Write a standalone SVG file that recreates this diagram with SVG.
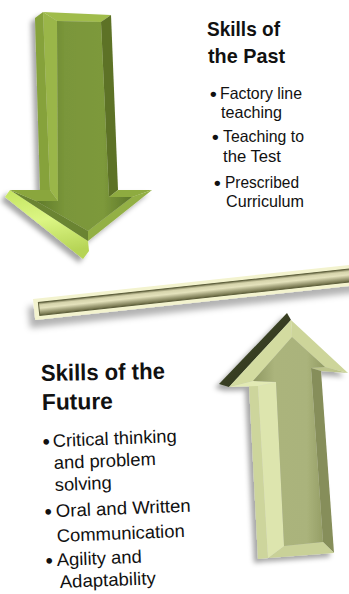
<svg xmlns="http://www.w3.org/2000/svg" width="349" height="594" viewBox="0 0 349 594">
<style>
.t{font-family:"Liberation Sans",Arial,sans-serif;fill:#111}
.h{font-weight:bold}
.b{font-weight:bold}
</style>
<defs>
<filter id="sh" x="-30%" y="-20%" width="160%" height="140%">
<feGaussianBlur in="SourceAlpha" stdDeviation="2.5"/>
<feOffset dx="-4" dy="4" result="b"/>
<feFlood flood-color="#000" flood-opacity="0.35"/>
<feComposite in2="b" operator="in"/>
<feMerge><feMergeNode/><feMergeNode in="SourceGraphic"/></feMerge>
</filter>
<filter id="shb" x="-10%" y="-100%" width="120%" height="300%">
<feGaussianBlur in="SourceAlpha" stdDeviation="3"/>
<feOffset dx="-5" dy="8" result="b"/>
<feFlood flood-color="#000" flood-opacity="0.3"/>
<feComposite in2="b" operator="in"/>
<feMerge><feMergeNode/><feMergeNode in="SourceGraphic"/></feMerge>
</filter>
<linearGradient id="dIn" x1="0" y1="0" x2="1" y2="0">
<stop offset="0" stop-color="#5f7a2a"/>
<stop offset="0.3" stop-color="#7a963a"/>
<stop offset="0.7" stop-color="#7d993b"/>
<stop offset="1" stop-color="#5d772a"/>
</linearGradient>
<linearGradient id="dBright" x1="0" y1="0" x2="0.2" y2="1">
<stop offset="0" stop-color="#c4e460"/>
<stop offset="0.5" stop-color="#dcf684"/>
<stop offset="1" stop-color="#b6d456"/>
</linearGradient>
<linearGradient id="uIn" x1="0" y1="0" x2="1" y2="0">
<stop offset="0" stop-color="#8f9862"/>
<stop offset="0.3" stop-color="#abb47c"/>
<stop offset="0.75" stop-color="#aab37b"/>
<stop offset="1" stop-color="#939c64"/>
</linearGradient>
<linearGradient id="uDark" x1="0" y1="0" x2="1" y2="1">
<stop offset="0" stop-color="#4a5230"/>
<stop offset="1" stop-color="#262b14"/>
</linearGradient>
<linearGradient id="barG" x1="0" y1="0" x2="0" y2="1">
<stop offset="0" stop-color="#6e6e4a"/>
<stop offset="0.2" stop-color="#d6d4ac"/>
<stop offset="0.45" stop-color="#e4e2bc"/>
<stop offset="0.7" stop-color="#a8a780"/>
<stop offset="1" stop-color="#66663f"/>
</linearGradient>
</defs>

<g id="arrow-down" filter="url(#sh)">
<polygon points="35,18 43,12 50,190 40,190" fill="#86a23a"/>
<polygon points="10,190 88,241 89,251 83,259 5,197" fill="url(#dBright)"/>
<polygon points="43,12 111,15 101,22 57,21" fill="#a0bc4c"/>
<polygon points="111,15 118,190 109,197 101,22" fill="#5d7226"/>
<polygon points="118,190 152,190 132,197 109,197" fill="#8eab40"/>
<polygon points="152,190 88,241 88,231 132,197" fill="#93b044"/>
<polygon points="88,241 10,190 36,201 88,231" fill="#6a8430"/>
<polygon points="10,190 50,190 58,201 36,201" fill="#8aa63c"/>
<polygon points="50,190 43,12 57,21 58,201" fill="#9ab648"/>
<polygon points="57,21 101,22 109,197 132,197 88,231 36,201 58,201" fill="url(#dIn)"/>
</g>

<g id="bar" filter="url(#shb)">
<g transform="translate(33,299) rotate(-6.15)">
<rect x="0" y="0" width="330" height="21" fill="#f3f3cf"/>
<rect x="5" y="4" width="330" height="13" fill="url(#barG)" stroke="#5e5f3c" stroke-width="1"/>
</g>
</g>

<g id="arrow-up" filter="url(#sh)">
<polygon points="287,313 291,320 229,387 219,384" fill="url(#uDark)"/>
<polygon points="249,385 258,386 268,558 258,559" fill="#cdd59c"/>
<polygon points="291,320 348,373 325,367 292,337" fill="#cdd59a"/>
<polygon points="348,373 321,371 311,368 325,367" fill="#bcc48a"/>
<polygon points="321,371 334,553 323,542 311,368" fill="#868e5a"/>
<polygon points="334,553 268,558 284,546 323,542" fill="#c9d198"/>
<polygon points="268,558 258,386 276,382 284,546" fill="#dde5ae"/>
<polygon points="258,386 229,387 253,381 276,382" fill="#e2eab4"/>
<polygon points="229,387 291,320 292,337 253,381" fill="#d3dba0"/>
<polygon points="292,337 325,367 311,368 323,542 284,546 276,382 253,381" fill="url(#uIn)"/>
</g>

<g id="text-past">
<text class="t h" x="207" y="36" font-size="21" textLength="73" lengthAdjust="spacingAndGlyphs">Skills of</text>
<text class="t h" x="208" y="63" font-size="21" textLength="77" lengthAdjust="spacingAndGlyphs">the Past</text>
<text class="t b" x="210" y="100" font-size="19">•</text>
<text class="t" x="220" y="99" font-size="16.5" textLength="82" lengthAdjust="spacingAndGlyphs">Factory line</text>
<text class="t" x="221" y="118" font-size="16.5" textLength="61" lengthAdjust="spacingAndGlyphs">teaching</text>
<text class="t b" x="212" y="143" font-size="19">•</text>
<text class="t" x="223" y="142" font-size="16.5" textLength="81" lengthAdjust="spacingAndGlyphs">Teaching to</text>
<text class="t" x="223" y="162" font-size="16.5" textLength="58" lengthAdjust="spacingAndGlyphs">the Test</text>
<text class="t b" x="214" y="189" font-size="19">•</text>
<text class="t" x="225" y="188" font-size="16.5" textLength="74" lengthAdjust="spacingAndGlyphs">Prescribed</text>
<text class="t" x="226" y="207" font-size="16.5" textLength="78" lengthAdjust="spacingAndGlyphs">Curriculum</text>
</g>

<g id="text-future">
<text class="t h" x="41" y="381" font-size="23" textLength="124" lengthAdjust="spacingAndGlyphs" transform="rotate(-1 41 381)">Skills of the</text>
<text class="t h" x="42" y="410" font-size="23" textLength="71" lengthAdjust="spacingAndGlyphs" transform="rotate(-1 42 410)">Future</text>
<g transform="rotate(-2.3 53 447)">
<text class="t b" x="43" y="448" font-size="20">•</text>
<text class="t" x="53" y="447" font-size="18" textLength="124" lengthAdjust="spacingAndGlyphs">Critical thinking</text>
</g>
<text class="t" x="54" y="469" font-size="18" textLength="102" lengthAdjust="spacingAndGlyphs" transform="rotate(-2.3 54 469)">and problem</text>
<text class="t" x="55" y="491" font-size="18" textLength="57" lengthAdjust="spacingAndGlyphs" transform="rotate(-2.3 55 491)">solving</text>
<g transform="rotate(-2.3 56 517)">
<text class="t b" x="45" y="518" font-size="20">•</text>
<text class="t" x="56" y="517" font-size="18" textLength="135" lengthAdjust="spacingAndGlyphs">Oral and Written</text>
</g>
<text class="t" x="57" y="542" font-size="18" textLength="128" lengthAdjust="spacingAndGlyphs" transform="rotate(-2.3 57 542)">Communication</text>
<g transform="rotate(-2.3 57 566)">
<text class="t b" x="46" y="567" font-size="20">•</text>
<text class="t" x="57" y="566" font-size="18" textLength="85" lengthAdjust="spacingAndGlyphs">Agility and</text>
</g>
<text class="t" x="60" y="588" font-size="18" textLength="96" lengthAdjust="spacingAndGlyphs" transform="rotate(-2.3 60 588)">Adaptability</text>
</g>
</svg>
